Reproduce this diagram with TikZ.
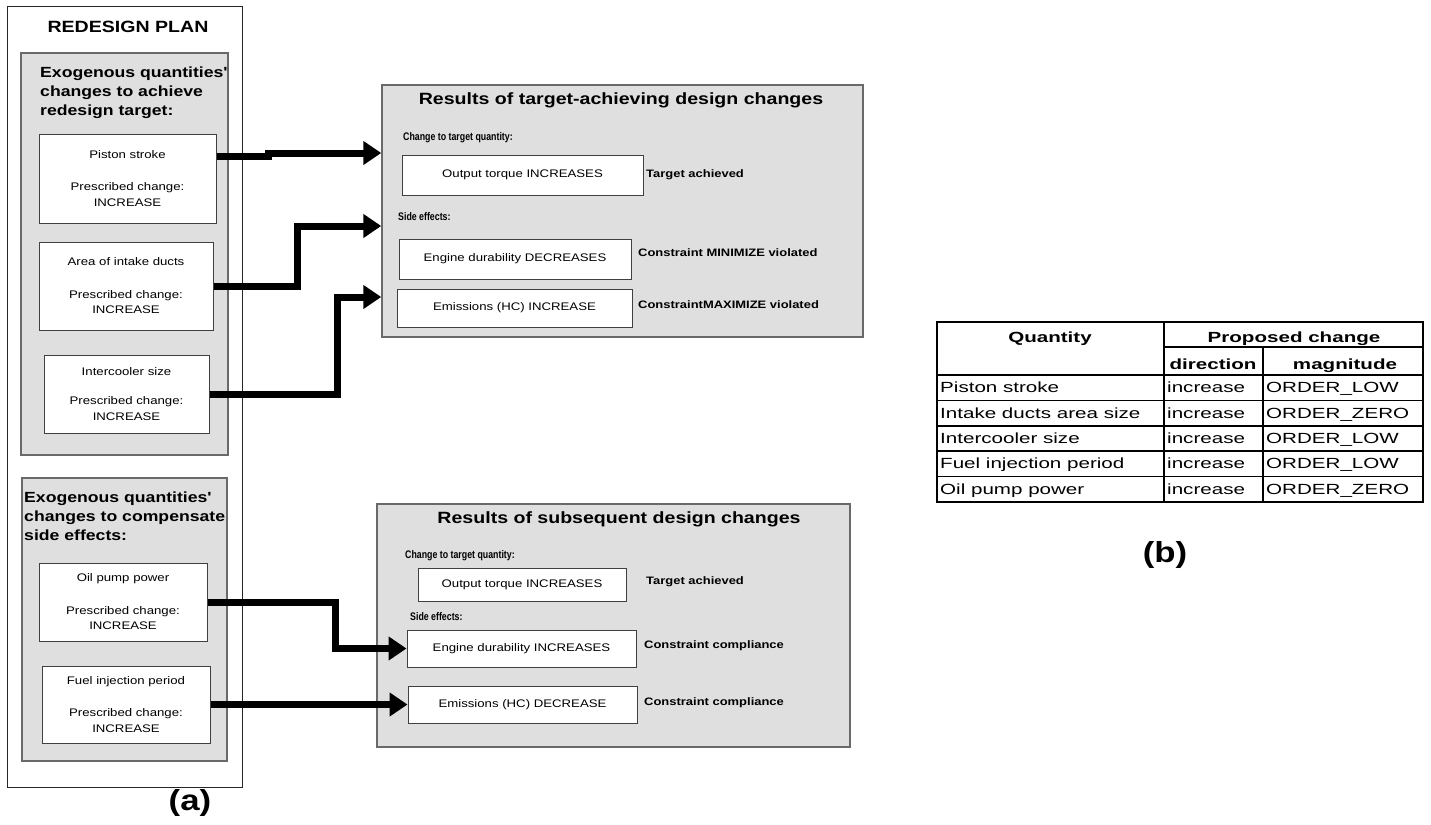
\documentclass[tikz,border=0pt]{standalone}
\usepackage{fontspec}
\setmainfont{Liberation Sans}
\newfontfamily\widefont[FakeStretch=1.2]{Liberation Sans}
\newfontfamily\narrowfont[FakeStretch=0.8]{Liberation Sans}
\newfontfamily\tablefont[FakeStretch=1.4]{Liberation Sans}
\usetikzlibrary{arrows.meta}
\definecolor{panelgray}{RGB}{223,223,223}
\definecolor{edgegray}{RGB}{105,105,105}

\begin{document}
\begin{tikzpicture}[x=1pt,y=-1pt,
  frame/.style={draw=black!85,line width=1pt,inner sep=0pt},
  panel/.style={draw=edgegray,fill=panelgray,line width=1.5pt,inner sep=0pt},
  qbox/.style={draw=black!75,fill=white,line width=1pt,inner sep=0pt,align=center,
    font=\widefont\fontsize{11}{15.5}\selectfont},
  rbox/.style={qbox,font=\widefont\fontsize{11}{13}\selectfont},
  bigtitle/.style={inner sep=0pt,font=\widefont\bfseries\fontsize{16.3}{19.5}\selectfont},
  heading/.style={inner sep=0pt,align=left,anchor=west,
    font=\widefont\bfseries\fontsize{14.7}{19}\selectfont},
  sublabel/.style={inner sep=0pt,anchor=west,font=\narrowfont\bfseries\fontsize{11}{13}\selectfont},
  verdict/.style={inner sep=0pt,anchor=west,font=\widefont\bfseries\fontsize{10.8}{13}\selectfont},
  conn/.style={line width=7pt,-{Triangle[length=18pt,width=23pt]}},
  cell/.style={inner sep=0pt,anchor=base west,font=\tablefont\fontsize{14.7}{17}\selectfont},
  headcell/.style={inner sep=0pt,anchor=base,font=\tablefont\bfseries\fontsize{14.7}{17}\selectfont},
  rule/.style={line width=1.6pt},
  caption/.style={inner sep=0pt,font=\widefont\bfseries\fontsize{29}{34}\selectfont}]
\useasboundingbox (0,0) rectangle (1431,824);

% redesign plan
\node[frame,minimum width=235pt,minimum height=780pt] (plan) at (124.5,397) {};
\node[bigtitle] (plantitle) at (128,27) {REDESIGN PLAN};

\node[panel,minimum width=207pt,minimum height=402pt] (exoa) at (124.5,254) {};
\node[heading] (exoatext) at (40,93)
  {Exogenous quantities\textquotesingle\\changes to achieve\\redesign target:};
\node[qbox,minimum width=177pt,minimum height=89pt] (piston) at (127.5,178.5)
  {Piston stroke\\[17pt]Prescribed change:\\INCREASE};
\node[qbox,minimum width=174pt,minimum height=88pt] (intake) at (126,286)
  {Area of intake ducts\\[17pt]Prescribed change:\\INCREASE};
\node[qbox,minimum width=165pt,minimum height=78pt] (cooler) at (126.5,394)
  {Intercooler size\\[14pt]Prescribed change:\\INCREASE};

\node[panel,minimum width=205pt,minimum height=283pt] (exob) at (124.5,619.5) {};
\node[heading] (exobtext) at (24,516.5)
  {Exogenous quantities\textquotesingle\\changes to compensate\\side effects:};
\node[qbox,minimum width=168pt,minimum height=78pt] (oilpump) at (123,602)
  {Oil pump power\\[17pt]Prescribed change:\\INCREASE};
\node[qbox,minimum width=168pt,minimum height=77pt] (fuel) at (126,704.5)
  {Fuel injection period\\[17pt]Prescribed change:\\INCREASE};

% results of target-achieving changes
\node[panel,minimum width=481pt,minimum height=252pt] (resa) at (622.5,211) {};
\node[bigtitle] (resatitle) at (621,100) {Results of target-achieving design changes};
\node[sublabel] (resatarget) at (403,138) {Change to target quantity:};
\node[rbox,minimum width=241pt,minimum height=40pt] (torquea) at (522.5,175) {Output torque INCREASES};
\node[verdict] (verdicta) at (646,175) {Target achieved};
\node[sublabel] (resaside) at (398,217) {Side effects:};
\node[rbox,minimum width=232pt,minimum height=40pt] (durab) at (515,259) {Engine durability DECREASES};
\node[verdict] (verdictb) at (638,253) {Constraint MINIMIZE violated};
\node[rbox,minimum width=235pt,minimum height=38pt] (emisa) at (514.5,308) {Emissions (HC) INCREASE};
\node[verdict] (verdictc) at (638,305) {ConstraintMAXIMIZE violated};

% results of subsequent changes
\node[panel,minimum width=473pt,minimum height=243pt] (resb) at (613.5,625.5) {};
\node[bigtitle] (resbtitle) at (619,519) {Results of subsequent design changes};
\node[sublabel] (resbtarget) at (405,556) {Change to target quantity:};
\node[rbox,minimum width=208pt,minimum height=33pt] (torqueb) at (522,584.5) {Output torque INCREASES};
\node[verdict] (verdictd) at (646,582) {Target achieved};
\node[sublabel] (resbside) at (410,617) {Side effects:};
\node[rbox,minimum width=229pt,minimum height=37pt] (durb) at (521.5,648.5) {Engine durability INCREASES};
\node[verdict] (verdicte) at (644,646) {Constraint compliance};
\node[rbox,minimum width=229pt,minimum height=37pt] (emisb) at (522.5,704.5) {Emissions (HC) DECREASE};
\node[verdict] (verdictf) at (644,703) {Constraint compliance};

% arrows
\draw[conn] ([yshift=22pt]piston.east) -- ++(52,0) |- ([yshift=58pt]resa.west);
\draw[conn] (intake.east) -- ++(84,0) |- ([yshift=-15pt]resa.west);
\draw[conn] (cooler.east) -- ++(128,0) |- ([yshift=-86pt]resa.west);
\draw[conn] (oilpump.east) -- ++(128,0) |- (durb.west);
\draw[conn] (fuel.east) -- (emisb.west);

% table (b)
\draw[rule,line width=2pt] (937,322) rectangle (1423,502);
\draw[rule] (1164,347) -- (1423,347);
\draw[rule] (937,375) -- (1423,375);
\draw[rule] (1164,322) -- (1164,502);
\draw[rule] (1263,347) -- (1263,502);
\foreach \i in {1,...,4}
  \draw[rule] (937,375+25.4*\i) -- (1423,375+25.4*\i);
\node[headcell] (hquant) at (1050,342) {Quantity};
\node[headcell] (hprop) at (1294,342) {Proposed change};
\node[headcell] (hdir) at (1213,369) {direction};
\node[headcell] (hmag) at (1345,369) {magnitude};
\foreach \q/\m [count=\i] in {Piston stroke/ORDER\_LOW,Intake ducts area size/ORDER\_ZERO,
    Intercooler size/ORDER\_LOW,Fuel injection period/ORDER\_LOW,Oil pump power/ORDER\_ZERO}{
  \node[cell] (q\i) at (940,367.3+25.4*\i) {\q};
  \node[cell] (d\i) at (1167,367.3+25.4*\i) {increase};
  \node[cell] (m\i) at (1266,367.3+25.4*\i) {\m};
}

\node[caption] (capa) at (190,803) {(a)};
\node[caption] (capb) at (1165,555) {(b)};
\end{tikzpicture}
\end{document}
